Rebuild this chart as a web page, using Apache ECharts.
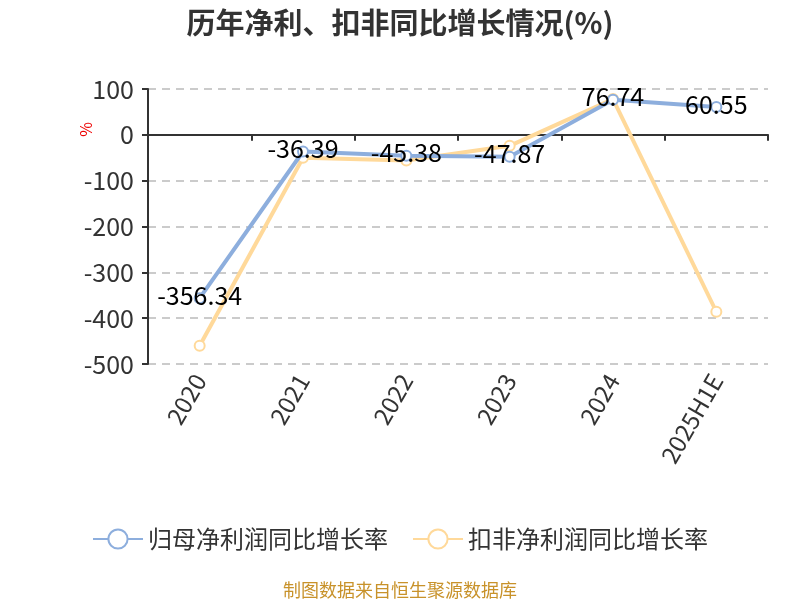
<!DOCTYPE html>
<html><head><meta charset="utf-8">
<script src="https://cdn.jsdelivr.net/npm/echarts@6/dist/echarts.min.js"></script>
<style>html,body{margin:0;padding:0;background:#fff}#c{width:800px;height:600px}</style>
</head><body><div id="c"></div>
<script>
const categories = ['2020','2021','2022','2023','2024','2025H1E'];
const netProfitGrowth = [-356.34, -36.39, -45.38, -47.87, 76.74, 60.55];
const deductedGrowth = [-460, -50, -56, -24, 78, -386];
const yTicks = {min: -500, max: 100, interval: 100};
const seriesNames = ['归母净利润同比增长率', '扣非净利润同比增长率'];
const titleText = '历年净利、扣非同比增长情况(%)';
const footText = '制图数据来自恒生聚源数据库';
const yUnit = '%';

const FONT = '"Noto Sans CJK SC", "Noto Sans", sans-serif';
const chart = echarts.init(document.getElementById('c'));
chart.setOption({
  backgroundColor: '#fff',
  title: [{
    text: titleText, left: 'center', top: 3,
    textStyle: {fontSize: 29, fontWeight: 'bold', color: '#333', fontFamily: FONT}
  }, {
    text: footText, left: 'center', top: 576,
    textStyle: {fontSize: 18, fontWeight: 'normal', color: '#C8922A', fontFamily: FONT}
  }],
  legend: {
    top: 522, left: 'center', itemWidth: 50, itemHeight: 24, itemGap: 24,
    textStyle: {fontSize: 24, color: '#333', fontFamily: FONT},
    data: seriesNames
  },
  graphic: [{
    type: 'text', left: 78, top: 122, rotation: Math.PI / 2,
    style: {text: yUnit, fill: '#e00', fontSize: 16, fontFamily: FONT}
  }],
  grid: {left: 148, right: 32, top: 89, bottom: 236, containLabel: false, outerBoundsMode: 'none'},
  xAxis: {
    type: 'category', data: categories, boundaryGap: true,
    axisLine: {onZero: true, lineStyle: {color: '#333', width: 2}},
    axisTick: {show: true, alignWithLabel: false, length: 6, lineStyle: {color: '#333', width: 2}},
    axisLabel: {rotate: 60, fontSize: 24, color: '#333', fontFamily: FONT, margin: 12, interval: 0},
    splitLine: {show: false}
  },
  yAxis: {
    type: 'value', min: yTicks.min, max: yTicks.max, interval: yTicks.interval,
    axisLine: {show: true, lineStyle: {color: '#333', width: 2}},
    axisTick: {show: true, length: 6, lineStyle: {color: '#333', width: 2}},
    axisLabel: {fontSize: 25, color: '#333', fontFamily: FONT, margin: 14},
    splitLine: {show: true, lineStyle: {type: [8, 6], color: '#bbb', width: 1.5}}
  },
  series: [{
    name: seriesNames[0], type: 'line', data: netProfitGrowth,
    symbol: 'emptyCircle', symbolSize: 10,
    lineStyle: {color: '#8DAEDD', width: 4},
    itemStyle: {color: '#8DAEDD', borderWidth: 2},
    label: {show: true, position: 'inside', offset: [0, -3], fontSize: 25, color: '#000', fontFamily: FONT},
    z: 3
  }, {
    name: seriesNames[1], type: 'line', data: deductedGrowth,
    symbol: 'emptyCircle', symbolSize: 10,
    lineStyle: {color: '#FFD99A', width: 4},
    itemStyle: {color: '#FFD99A', borderWidth: 2},
    label: {show: false},
    z: 2
  }]
});
</script></body></html>
